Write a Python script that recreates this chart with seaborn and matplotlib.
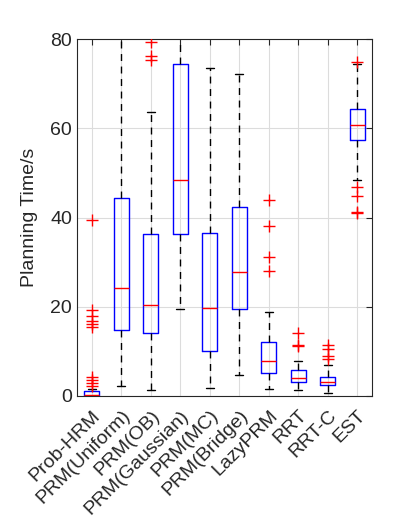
import matplotlib
matplotlib.use("Agg")
import matplotlib.pyplot as plt
import seaborn as sns
import pandas as pd

methods = ["Prob-HRM", "PRM(Uniform)", "PRM(OB)", "PRM(Gaussian)", "PRM(MC)",
           "PRM(Bridge)", "LazyPRM", "RRT", "RRT-C", "EST"]

# five-number summaries (planning time, s)
whisk_lo = [0.0, 2.3, 1.3, 19.5, 1.7, 4.6, 1.5, 1.4, 0.7, 48.4]
q1 = [0.0, 14.8, 14.0, 36.4, 10.1, 19.5, 5.2, 3.2, 2.5, 57.5]
median = [0.3, 24.1, 20.4, 48.5, 19.7, 27.8, 7.9, 4.0, 3.2, 60.7]
q3 = [1.0, 44.4, 36.3, 74.5, 36.6, 42.4, 12.2, 5.8, 4.3, 64.3]
whisk_hi = [1.6, 90.0, 63.7, 95.0, 73.5, 72.3, 18.9, 7.9, 7.0, 74.4]

# outliers
out_method = (["Prob-HRM"] * 10 + ["PRM(OB)"] * 3 + ["LazyPRM"] * 4 +
              ["RRT"] * 3 + ["RRT-C"] * 4 + ["EST"] * 5)
out_time = [3.0, 3.6, 4.3, 15.5, 16.2, 16.9, 18.0, 19.3, 39.5, 2.2,
            75.3, 76.2, 79.4,
            28.0, 31.1, 38.1, 44.0,
            11.1, 11.4, 14.1,
            8.2, 8.9, 10.6, 11.4,
            41.0, 41.3, 44.8, 46.8, 74.9]

rows = []
for i, m in enumerate(methods):
    for v in (whisk_lo[i], q1[i], median[i], q3[i], whisk_hi[i]):
        rows.append((m, v))
box_df = pd.DataFrame(rows, columns=["method", "time"])
out_df = pd.DataFrame({"method": out_method, "time": out_time})

sns.set_style("white")
plt.rcParams["font.family"] = ["Liberation Sans", "DejaVu Sans"]

fig = plt.figure(figsize=(4.12, 5.23), dpi=100)
ax = fig.add_axes([0.187, 0.243, 0.716, 0.682])

sns.boxplot(data=box_df, x="method", y="time", order=methods, whis=(0, 100),
            fill=False, width=0.5, ax=ax, showfliers=False, color="blue",
            boxprops=dict(color="blue", linewidth=1.0),
            whiskerprops=dict(color="black", linestyle=(0, (5, 4)), linewidth=1.0),
            capprops=dict(color="black", linewidth=1.0),
            medianprops=dict(color="red", linewidth=1.0),
            capwidths=0.28)
sns.stripplot(data=out_df, x="method", y="time", order=methods, jitter=False,
              marker="+", color="red", size=8, linewidth=1.0, ax=ax)

ax.set_xlim(-0.5, 9.5)
ax.set_ylim(0, 80)
ax.set_yticks([0, 20, 40, 60, 80])
ax.grid(True, color="#dcdcdc", linewidth=0.8)
ax.set_axisbelow(True)
ax.set_xlabel("")
ax.set_ylabel("Planning Time/s", fontsize=14, color="#262626", labelpad=9)
ax.tick_params(axis="both", direction="in", top=True, right=True, length=4,
               width=0.8, labelsize=14, colors="#262626")
ax.tick_params(axis="x", pad=8)
ax.set_xticks(range(len(methods)))
ax.set_xticklabels(methods, rotation=45, ha="right", rotation_mode="anchor")
for s in ax.spines.values():
    s.set_visible(True)
    s.set_color("#262626")
    s.set_linewidth(0.8)

fig.savefig("out.png", dpi=100)
